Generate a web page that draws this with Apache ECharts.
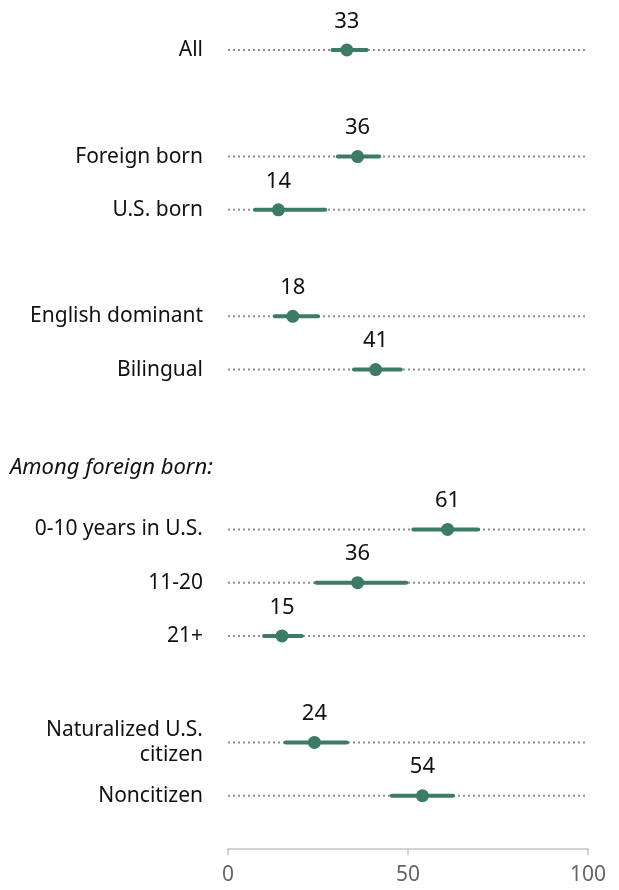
<!DOCTYPE html>
<html>
<head>
<meta charset="utf-8">
<script src="https://cdn.jsdelivr.net/npm/echarts@6/dist/echarts.min.js"></script>
<style>
  html, body { margin: 0; padding: 0; background: #fff; }
  #chart { width: 619px; height: 890px; }
</style>
</head>
<body>
<div id="chart"></div>
<script>
// rows of the axis, top to bottom; '' = spacer row
const categories = ['All', '', 'Foreign born', 'U.S. born', '', 'English dominant', 'Bilingual', '', '',
  '0-10 years in U.S.', '11-20', '21+', '', 'Naturalized U.S.\ncitizen', 'Noncitizen', '']
const rowNames = ['All', 'Foreign born', 'U.S. born', 'English dominant', 'Bilingual',
  '0-10 years in U.S.', '11-20', '21+', 'Naturalized U.S.\ncitizen', 'Noncitizen']
const estimates = [33, 36, 14, 18, 41, 61, 36, 15, 24, 54]
const lowBounds = [29, 30.5, 7.5, 13, 35, 51.5, 24.5, 10, 16, 45.5]
const highBounds = [38.5, 42, 27, 25, 48, 69.5, 49.5, 20.5, 33, 62.5]
const xTicks = [0, 50, 100]
const header = 'Among foreign born:'

const green = '#3b7b68'
const font = 'Noto Sans'

const chart = echarts.init(document.getElementById('chart'))

const rowIdx = rowNames.map(n => categories.indexOf(n))
const rangeData = rowNames.map((n, i) => [lowBounds[i], highBounds[i], rowIdx[i]])
const dotData = rowNames.map((n, i) => [estimates[i], rowIdx[i]])

const option = {
  animation: false,
  textStyle: { fontFamily: font },
  grid: { left: 228, right: 31, top: 50, bottom: 41 },
  xAxis: {
    type: 'value',
    min: xTicks[0],
    max: xTicks[xTicks.length - 1],
    interval: xTicks[1] - xTicks[0],
    axisLine: { show: true, lineStyle: { color: '#c4c4c4', width: 1.5 } },
    axisTick: { show: true, length: 6, lineStyle: { color: '#c4c4c4', width: 1.5 } },
    axisLabel: { color: '#666', fontSize: 21, margin: 16, fontFamily: font },
    splitLine: { show: false }
  },
  yAxis: {
    type: 'category',
    data: categories,
    inverse: true,
    boundaryGap: false,
    axisLine: { show: false },
    axisTick: { show: false },
    splitLine: { show: false },
    axisLabel: {
      interval: 0,
      margin: 25,
      color: '#111',
      fontSize: 21,
      lineHeight: 25,
      padding: [5, 0, 0, 0],
      fontFamily: font
    }
  },
  graphic: [{
    type: 'text',
    left: 10,
    top: 457,
    style: {
      text: header,
      fontSize: 22,
      fontStyle: 'italic',
      fontFamily: font,
      fill: '#111'
    }
  }],
  series: [
    {
      type: 'custom',
      encode: { x: [0, 1], y: 2 },
      data: rangeData,
      z: 2,
      renderItem: function (params, api) {
        const y = api.value(2)
        const a = api.coord([xTicks[0], y])
        const b = api.coord([xTicks[xTicks.length - 1], y])
        const lo = api.coord([api.value(0), y])
        const hi = api.coord([api.value(1), y])
        return {
          type: 'group',
          children: [
            {
              type: 'line',
              shape: { x1: a[0], y1: a[1], x2: b[0], y2: b[1] },
              style: { stroke: '#909090', lineWidth: 2, lineDash: [2, 3] }
            },
            {
              type: 'line',
              shape: { x1: lo[0], y1: lo[1], x2: hi[0], y2: hi[1] },
              style: { stroke: green, lineWidth: 4, lineCap: 'round' }
            }
          ]
        }
      }
    },
    {
      type: 'scatter',
      data: dotData,
      z: 3,
      symbolSize: 13,
      itemStyle: { color: green, opacity: 1 },
      label: {
        show: true,
        position: 'top',
        distance: 11,
        fontSize: 22,
        color: '#111',
        fontFamily: font,
        formatter: p => p.value[0]
      }
    }
  ]
}

chart.setOption(option)
</script>
</body>
</html>
